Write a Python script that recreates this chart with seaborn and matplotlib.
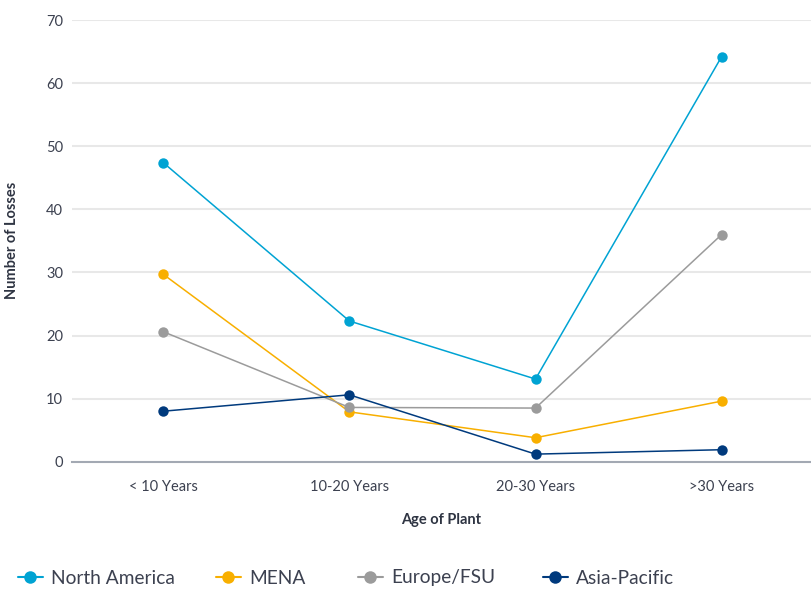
import numpy as np
import pandas as pd
import matplotlib
matplotlib.use("Agg")
import matplotlib.pyplot as plt
from matplotlib.lines import Line2D
import seaborn as sns

# ---- data ----
categories = ["< 10 Years", "10-20 Years", "20-30 Years", ">30 Years"]
regions = ["North America", "MENA", "Europe/FSU", "Asia-Pacific"]
north_america = [47.4, 22.3, 13.1, 64.2]
mena = [29.7, 7.9, 3.8, 9.6]
europe_fsu = [20.6, 8.6, 8.5, 36.0]
asia_pacific = [8.0, 10.6, 1.2, 1.9]
y_ticks = [0, 10, 20, 30, 40, 50, 60, 70]

colors = ["#00A3D3", "#F8AF00", "#9B9B9B", "#003A7D"]

series = [north_america, mena, europe_fsu, asia_pacific]
rows = []
for reg, vals in zip(regions, series):
    for cat, v in zip(categories, vals):
        rows.append({"Age of Plant": cat, "Number of Losses": v, "Region": reg})
df = pd.DataFrame(rows)

sns.set_theme(style="white")
plt.rcParams["font.family"] = ["Lato", "DejaVu Sans"]

text_col = "#3c4150"

fig = plt.figure(figsize=(8.11, 5.89), dpi=100)
ax = fig.add_axes([72 / 811, 1 - 461.7 / 589, 1 - 72 / 811, (461.7 - 20) / 589])

sns.lineplot(data=df, x="Age of Plant", y="Number of Losses", hue="Region",
             hue_order=regions, palette=colors, marker="o", markersize=7.5,
             markeredgewidth=0, linewidth=1.1, sort=False, legend=False, ax=ax)
for ln in ax.lines:
    ln.set_clip_on(False)
    ln.set_zorder(3)

ax.set_xlim(-0.49, 3.48)
ax.set_ylim(0, 70)
ax.set_yticks(y_ticks)
ax.set_yticklabels([str(t) for t in y_ticks])
for t in y_ticks[1:]:
    ax.axhline(t, color="#e8e8e8", lw=1.5, zorder=0)

for s in ["top", "right", "left"]:
    ax.spines[s].set_visible(False)
ax.spines["bottom"].set_color("#a3a9b3")
ax.spines["bottom"].set_linewidth(1.5)
ax.spines["bottom"].set_zorder(2)

ax.set_xticks([0.5, 1.5, 2.5], minor=True)
ax.tick_params(axis="x", which="minor", direction="inout", length=10,
               width=1.0, color="#a3a9b3")
ax.tick_params(axis="x", which="major", length=0, pad=13.5,
               labelsize=10.5, labelcolor=text_col)
ax.tick_params(axis="y", length=0, pad=6.5, labelsize=10.5, labelcolor=text_col)

ax.set_xlabel("Age of Plant", fontsize=10.5, fontweight="bold", color="#2e3442", labelpad=13)
ax.set_ylabel("Number of Losses", fontsize=10.5, fontweight="bold", color="#2e3442")
ax.yaxis.set_label_coords(-0.072, 0.5)

legend_x = [18, 216, 358, 543]
for reg, col, lx in zip(regions, colors, legend_x):
    h = Line2D([0], [0], color=col, lw=1.5, marker="o", markersize=9, markeredgewidth=0)
    leg = fig.legend(handles=[h], labels=[reg], loc="center left",
                     bbox_to_anchor=(lx / 811, 1 - 578 / 589), frameon=False,
                     handlelength=1.3, handletextpad=0.42, borderpad=0,
                     borderaxespad=0, fontsize=13.8)
    for t in leg.get_texts():
        t.set_color(text_col)

fig.savefig("out.png", dpi=100)
